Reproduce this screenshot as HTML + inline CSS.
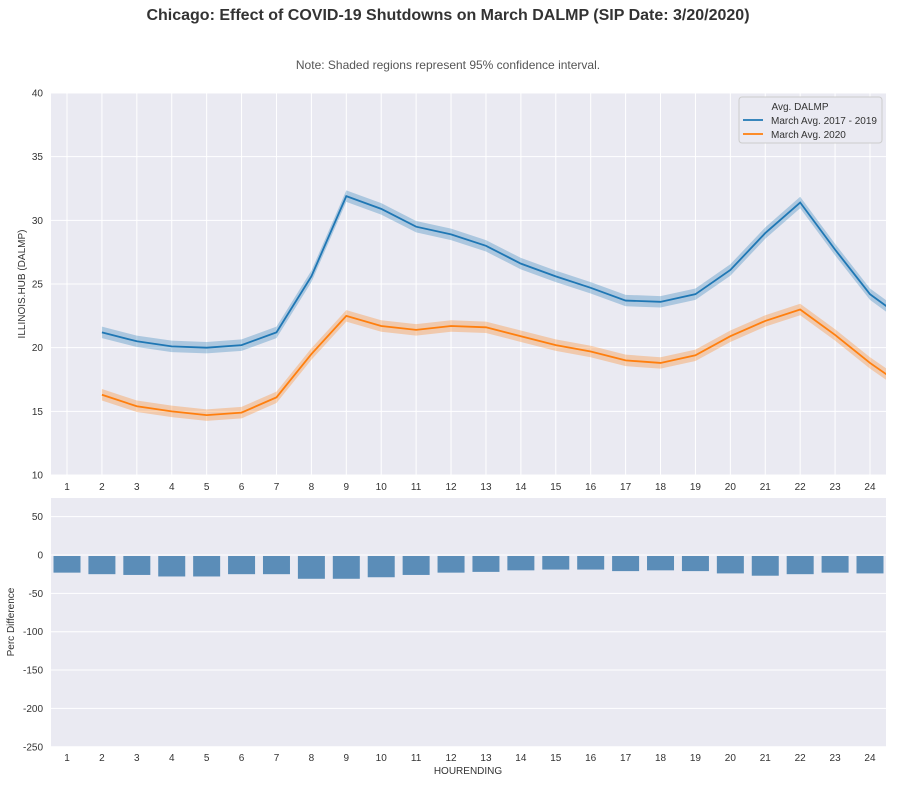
<!DOCTYPE html>
<html><head><meta charset="utf-8"><style>
body{margin:0;background:#fff;font-family:"Liberation Sans",sans-serif}
svg text{font-family:"Liberation Sans",sans-serif}
</style></head><body>
<svg id="s" width="897" height="782" xmlns="http://www.w3.org/2000/svg"></svg>
<script>
const L=51,R=886,T1=93,B1=475,T2=498,B2=747;
const X=v=>67+(v-1)*34.913;
const Y1=v=>475-(v-10)*12.733;
const Y2=v=>555-v*0.767;
let h='';
h+='<text x="448" y="20" text-anchor="middle" font-size="16" font-weight="bold" fill="#333">Chicago: Effect of COVID-19 Shutdowns on March DALMP (SIP Date: 3/20/2020)</text>';
h+='<text x="448" y="69" text-anchor="middle" font-size="12" fill="#555">Note: Shaded regions represent 95% confidence interval.</text>';
h+=`<rect x="${L}" y="${T1}" width="${R-L}" height="${B1-T1}" fill="#eaeaf2"/>`;
h+=`<rect x="${L}" y="${T2}" width="${R-L}" height="${B2-T2}" fill="#eaeaf2"/>`;
for(let i=1;i<=24;i++){
 h+=`<line x1="${X(i)}" x2="${X(i)}" y1="${T1}" y2="${B1}" stroke="#fff" stroke-width="1"/>`;
 h+=`<text x="${X(i)}" y="490" text-anchor="middle" font-size="10" fill="#333">${i}</text>`;
 h+=`<text x="${X(i)}" y="761" text-anchor="middle" font-size="10" fill="#333">${i}</text>`;
}
for(let v=10;v<=40;v+=5){h+=`<line x1="${L}" x2="${R}" y1="${Y1(v)}" y2="${Y1(v)}" stroke="#fff"/>`;
 h+=`<text x="43" y="${Y1(v)+3.5}" text-anchor="end" font-size="10" fill="#333">${v}</text>`;}
for(let v=50;v>=-250;v-=50){h+=`<line x1="${L}" x2="${R}" y1="${Y2(v)}" y2="${Y2(v)}" stroke="#fff"/>`;
 h+=`<text x="43" y="${Y2(v)+3.5}" text-anchor="end" font-size="10" fill="#333">${v}</text>`;}
const b=[21.2,20.5,20.1,20.0,20.2,21.2,25.6,31.9,30.9,29.5,28.9,28.0,26.6,25.6,24.7,23.7,23.6,24.2,26.1,29.0,31.4,27.7,24.2,22.2];
const o=[16.3,15.4,15.0,14.7,14.9,16.1,19.5,22.5,21.7,21.4,21.7,21.6,20.9,20.2,19.7,19.0,18.8,19.4,20.9,22.1,23.0,21.0,18.8,16.9];
function band(d,c,ci){let up='',dn=[],ln='';
 d.forEach((v,i)=>{const x=X(i+2);up+=(i?'L':'M')+x+','+Y1(v+ci);dn.unshift('L'+x+','+Y1(v-ci));ln+=(i?'L':'M')+x+','+Y1(v);});
 return `<path d="${up+dn.join('')}Z" fill="${c}" opacity="0.3"/><path d="${ln}" fill="none" stroke="${c}" stroke-width="1.8"/>`;}
h+=`<defs><clipPath id="c"><rect x="${L}" y="${T1}" width="${R-L}" height="${B1-T1}"/></clipPath></defs><g clip-path="url(#c)">`+band(b,'#1f77b4',0.45)+band(o,'#ff7f0e',0.45)+'</g>';
const p=[-23,-25,-26,-28,-28,-25,-25,-31,-31,-29,-26,-23,-22,-20,-19,-19,-21,-20,-21,-24,-27,-25,-23,-24];
p.forEach((v,i)=>{h+=`<rect x="${X(i+1)-13.5}" y="${Y2(0)+1}" width="27" height="${-v*0.767-1}" fill="#5b8db8"/>`;});
h+=`<rect x="739" y="97" width="143" height="46" rx="3" fill="#eaeaf2" stroke="#ccc"/>`;
h+=`<text x="800" y="110" text-anchor="middle" font-size="10" fill="#333">Avg. DALMP</text>`;
h+=`<line x1="743" x2="763" y1="120" y2="120" stroke="#1f77b4" stroke-width="1.8"/><text x="771" y="124" font-size="10" fill="#333">March Avg. 2017 - 2019</text>`;
h+=`<line x1="743" x2="763" y1="134" y2="134" stroke="#ff7f0e" stroke-width="1.8"/><text x="771" y="138" font-size="10" fill="#333">March Avg. 2020</text>`;
h+=`<text transform="translate(25,284) rotate(-90)" text-anchor="middle" font-size="10" fill="#333">ILLINOIS.HUB (DALMP)</text>`;
h+=`<text transform="translate(14,622) rotate(-90)" text-anchor="middle" font-size="10" fill="#333">Perc Difference</text>`;
h+=`<text x="468" y="774" text-anchor="middle" font-size="10" fill="#333">HOURENDING</text>`;
document.getElementById('s').innerHTML=h;
</script>
</body></html>
